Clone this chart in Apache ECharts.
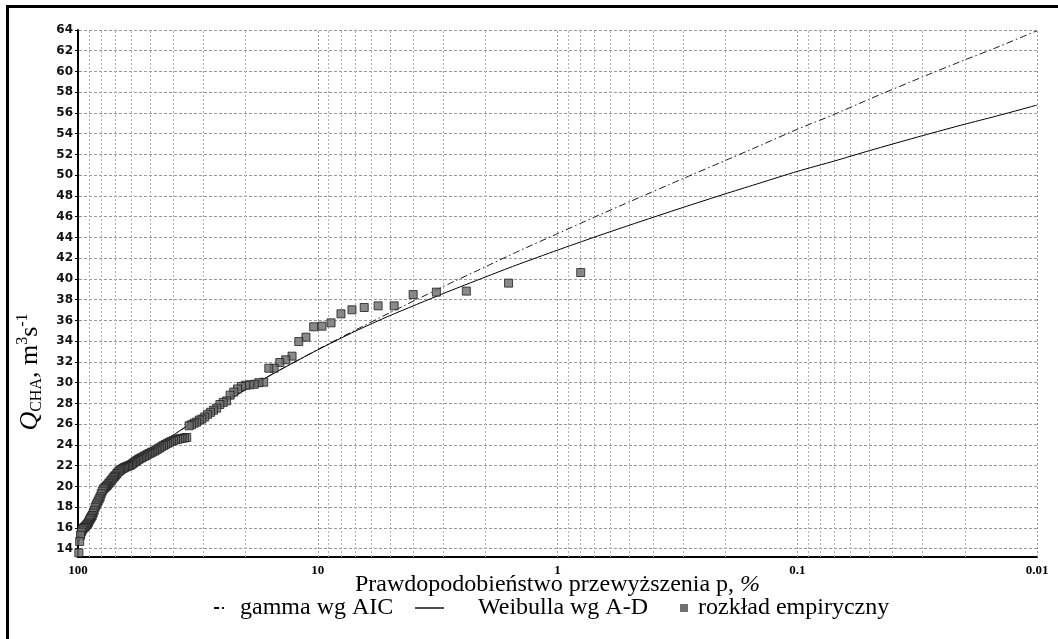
<!DOCTYPE html>
<html>
<head>
<meta charset="utf-8">
<script src="https://cdn.jsdelivr.net/npm/echarts@6/dist/echarts.min.js"></script>
<style>
  html, body { margin: 0; padding: 0; background: #fff; }
  #chart { width: 1058px; height: 639px; }
</style>
</head>
<body>
<div id="chart"></div>
<script>
// Exceedance probability (%) of the ranked observations
const pEmp = [0.8,1.6,2.4,3.2,4,4.8,5.6,6.4,7.2,8,8.8,9.6,10.4,11.2,12,12.8,13.6,14.4,15.2,16,
  16.8,17.6,18.4,19.2,20,20.8,21.6,22.4,23.2,24,24.8,25.6,26.4,27.2,28,28.8,29.6,30.4,31.2,32,
  32.8,33.6,34.4,35.2,36,36.8,37.6,38.4,39.2,40,40.8,41.6,42.4,43.2,44,44.8,45.6,46.4,47.2,48,
  48.8,49.6,50.4,51.2,52,52.8,53.6,54.4,55.2,56,56.8,57.6,58.4,59.2,60,60.8,61.6,62.4,63.2,64,
  64.8,65.6,66.4,67.2,68,68.8,69.6,70.4,71.2,72,72.8,73.6,74.4,75.2,76,76.8,77.6,78.4,79.2,80,
  80.8,81.6,82.4,83.2,84,84.8,85.6,86.4,87.2,88,88.8,89.6,90.4,91.2,92,92.8,93.6,94.4,95.2,96,
  96.8,97.6,98.4,99.2];
// Observed flows Q_CHA (m3/s), sorted from largest to smallest
const qEmp = [40.62,39.6,38.83,38.73,38.5,37.41,37.41,37.25,37.03,36.64,35.77,35.45,35.39,34.39,33.97,32.56,32.21,31.95,31.4,31.4,
  30.05,30.0,29.85,29.8,29.75,29.65,29.4,29.1,28.8,28.25,28.1,27.9,27.55,27.35,27.15,26.95,26.7,26.5,26.4,26.2,
  26.1,25.95,25.85,24.72,24.68,24.64,24.6,24.55,24.5,24.42,24.35,24.25,24.15,24.05,23.95,23.83,23.72,23.62,23.52,23.42,
  23.33,23.25,23.18,23.1,23.0,22.92,22.84,22.76,22.68,22.6,22.5,22.4,22.3,22.2,22.1,22.03,21.98,21.93,21.88,21.82,
  21.75,21.68,21.6,21.5,21.4,21.25,21.1,20.98,20.85,20.7,20.55,20.42,20.3,20.15,20.05,19.95,19.85,19.75,19.55,19.3,
  19.0,18.8,18.6,18.4,18.2,18.0,17.7,17.45,17.2,17.05,16.9,16.75,16.55,16.4,16.3,16.2,16.1,16.05,15.95,15.8,
  15.6,15.3,14.7,13.6];

// Fitted quantile curves
const pFit = [99.5,99,98,97,95,92,90,85,80,75,70,65,60,55,50,45,40,35,30,25,20,15,10,7,5,3,2,1.5,1,
  0.7,0.5,0.3,0.2,0.15,0.1,0.07,0.05,0.03,0.02,0.015,0.01];
const qWeibull = [14.3,14.8,15.4,15.85,16.5,17.2,17.6,18.5,19.3,20.05,20.75,21.4,22.05,22.7,23.35,24.12,24.95,25.85,26.84,27.98,
  29.33,31.0,33.17,34.95,36.47,38.59,40.19,41.3,42.78,
  44.04,45.19,46.89,48.2,49.1,50.37,51.37,52.37,53.82,54.92,55.66,56.76];
const qGamma = [14.3,14.8,15.4,15.85,16.5,17.2,17.6,18.5,19.3,20.05,20.75,21.4,22.05,22.7,23.35,24.12,24.95,25.85,26.84,27.98,
  29.33,31.0,33.2,35.05,36.75,39.26,41.17,42.54,44.37,
  45.97,47.45,49.67,51.41,52.65,54.43,55.87,57.34,59.48,61.12,62.24,63.93];

// Axis ticks and grid positions
const yTicks = [14,16,18,20,22,24,26,28,30,32,34,36,38,40,42,44,46,48,50,52,54,56,58,60,62,64];
const xMajorGrid = [10,1,0.1,0.01];
const xMinorGrid = [90,80,70,60,50,40,30,20, 9,8,7,6,5,4,3,2, 0.9,0.8,0.7,0.6,0.5,0.4,0.3,0.2,
  0.09,0.08,0.07,0.06,0.05,0.04,0.03,0.02];

const names = ['gamma wg AIC', 'Weibulla wg A-D', 'rozkład empiryczny'];

const zip = (xs, ys) => xs.map((x, i) => [x, ys[i]]);
const serif = 'Liberation Serif, Times New Roman, serif';

const chart = echarts.init(document.getElementById('chart'), null, { renderer: 'canvas' });

const gridLines = [];
yTicks.forEach(v => gridLines.push({ yAxis: v, lineStyle: { color: '#999', type: [3, 2], width: 1 } }));
xMajorGrid.forEach(v => gridLines.push({ xAxis: v, lineStyle: { color: '#999', type: [2, 2], width: 1 } }));
xMinorGrid.forEach(v => gridLines.push({ xAxis: v, lineStyle: { color: '#b0b0b0', type: [2, 2], width: 1 } }));

function fmtLog(v) {
  const e = Math.round(Math.log10(v));
  return e >= 0 ? String(Math.pow(10, e)) : Math.pow(10, e).toFixed(-e);
}

const legendText = (padLeft) => ({
  fontFamily: serif, fontSize: 24, color: '#000', padding: [0, 0, 6, padLeft]
});

const option = {
  animation: false,
  backgroundColor: '#fff',
  grid: { left: 78, right: 21, top: 30, bottom: 82 },
  xAxis: {
    type: 'log',
    logBase: 10,
    min: 0.01,
    max: 100,
    inverse: true,
    name: 'Prawdopodobieństwo przewyższenia p, {i|%}',
    nameLocation: 'middle',
    nameGap: 16,
    nameMoveOverlap: false,
    nameTextStyle: {
      fontFamily: serif, fontSize: 24, color: '#000',
      rich: { i: { fontFamily: serif, fontSize: 24, fontStyle: 'italic', color: '#000' } }
    },
    axisLine: { lineStyle: { color: '#000', width: 2 } },
    axisTick: { show: false },
    splitLine: { show: false },
    minorTick: { show: false },
    axisLabel: {
      margin: 7,
      fontFamily: serif, fontWeight: 'bold', fontSize: 13, color: '#000',
      formatter: fmtLog
    }
  },
  yAxis: {
    type: 'value',
    min: 13.2,
    max: 64,
    axisLine: { show: true, lineStyle: { color: '#000', width: 2 } },
    axisTick: { show: true, length: 3, customValues: yTicks, lineStyle: { color: '#000' } },
    splitLine: { show: false },
    axisLabel: {
      customValues: yTicks,
      margin: 5,
      fontFamily: 'DejaVu Sans', fontWeight: 'bold', fontSize: 12, color: '#111'
    }
  },
  legend: [
    {
      data: [{ name: names[0], icon: 'path://M0,0H5V2H0Z M7.5,0H9.5V2H7.5Z' }],
      left: 214, top: 596, padding: 0,
      itemWidth: 10, itemHeight: 10,
      itemStyle: { color: '#111' },
      textStyle: legendText(11)
    },
    {
      data: [{ name: names[1], icon: 'path://M0,0H29V1.4H0Z' }],
      left: 415, top: 596, padding: 0,
      itemWidth: 29, itemHeight: 10,
      itemStyle: { color: '#000' },
      textStyle: legendText(29)
    },
    {
      data: [{ name: names[2], icon: 'rect' }],
      left: 680, top: 596, padding: 0,
      itemWidth: 8, itemHeight: 8,
      itemStyle: { color: '#4d4d4d', borderWidth: 0 },
      textStyle: legendText(5)
    }
  ],
  graphic: [
    {
      type: 'rect',
      shape: { x: 7.5, y: 6.5, width: 1200, height: 800 },
      style: { fill: 'none', stroke: '#000', lineWidth: 3 },
      silent: true
    },
    {
      type: 'text',
      x: 30, y: 372,
      rotation: Math.PI / 2,
      silent: true,
      style: {
        text: '{q|Q}{sub|CHA}{n|, m}{sup|3}{n|s}{sup|-1}',
        align: 'center',
        verticalAlign: 'middle',
        rich: {
          q: { fontFamily: serif, fontSize: 26, fontStyle: 'italic', lineHeight: 30, verticalAlign: 'middle', fill: '#000' },
          n: { fontFamily: serif, fontSize: 26, lineHeight: 30, verticalAlign: 'middle', fill: '#000' },
          sub: { fontFamily: serif, fontSize: 16, lineHeight: 16, verticalAlign: 'bottom', fill: '#000' },
          sup: { fontFamily: serif, fontSize: 16, lineHeight: 16, verticalAlign: 'top', fill: '#000' }
        }
      }
    }
  ],
  series: [
    {
      name: 'grid',
      type: 'line',
      data: [],
      z: 1,
      silent: true,
      markLine: {
        z: 1,
        silent: true,
        symbol: 'none',
        label: { show: false },
        emphasis: { disabled: true },
        data: gridLines
      }
    },
    {
      name: names[0],
      type: 'line',
      data: zip(pFit, qGamma),
      smooth: 0.2,
      showSymbol: false,
      symbol: 'none',
      z: 2,
      lineStyle: { color: '#1a1a1a', width: 1, type: [7, 3, 1.5, 3] },
      itemStyle: { color: '#1a1a1a' }
    },
    {
      name: names[1],
      type: 'line',
      data: zip(pFit, qWeibull),
      smooth: 0.2,
      showSymbol: false,
      symbol: 'none',
      z: 2,
      lineStyle: { color: '#000', width: 1 },
      itemStyle: { color: '#000' }
    },
    {
      name: names[2],
      type: 'scatter',
      data: zip(pEmp, qEmp),
      symbol: 'rect',
      symbolSize: 8,
      z: 3,
      itemStyle: { color: '#6b6b6b', borderColor: '#1e1e1e', borderWidth: 1 }
    }
  ]
};

chart.setOption(option);
</script>
</body>
</html>
